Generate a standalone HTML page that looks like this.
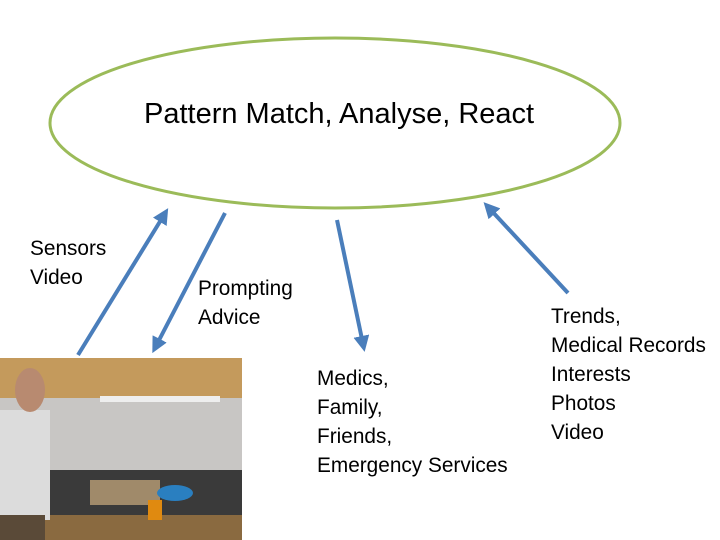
<!DOCTYPE html><html><head><style>
body{margin:0;width:720px;height:540px;background:#fff;position:relative;overflow:hidden;font-family:"Liberation Sans",sans-serif;}
.t{position:absolute;font-size:20.8px;line-height:29px;color:#000;white-space:nowrap}
</style></head><body>
<svg width="720" height="540" style="position:absolute;left:0;top:0">
<defs><marker id="a" markerWidth="4" markerHeight="4" refX="2" refY="2" orient="auto-start-reverse" markerUnits="strokeWidth"><path d="M0,0 L4,2 L0,4 z" fill="#4a7ebb"/></marker></defs>
<ellipse cx="335" cy="123" rx="285" ry="85" fill="none" stroke="#9bbb59" stroke-width="3"/>
<g stroke="#4a7ebb" stroke-width="4" fill="none">
<line x1="78" y1="355" x2="164" y2="215" marker-end="url(#a)"/>
<line x1="225" y1="213" x2="156" y2="346" marker-end="url(#a)"/>
<line x1="337" y1="220" x2="363" y2="344" marker-end="url(#a)"/>
<line x1="568" y1="293" x2="489" y2="208" marker-end="url(#a)"/>
</g>
<rect x="0" y="358" width="242" height="182" fill="#c8c6c4"/>
<rect x="0" y="358" width="242" height="40" fill="#c49a5c"/>
<rect x="100" y="396" width="120" height="6" fill="#eee"/>
<rect x="40" y="470" width="202" height="50" fill="#3a3a3a"/>
<rect x="90" y="480" width="70" height="25" fill="#a08a6a"/>
<rect x="40" y="515" width="202" height="25" fill="#8a6a40"/>
<ellipse cx="175" cy="493" rx="18" ry="8" fill="#2a7fc0"/>
<rect x="148" y="500" width="14" height="20" fill="#e08a10"/>
<rect x="0" y="410" width="50" height="110" fill="#dcdcdc"/>
<ellipse cx="30" cy="390" rx="15" ry="22" fill="#b88a70"/>
<rect x="0" y="515" width="45" height="25" fill="#5a4a38"/>
</svg>
<div class="t" style="left:144px;top:96px;font-size:29px;line-height:36px">Pattern Match, Analyse, React</div>
<div class="t" style="left:30px;top:234px">Sensors<br>Video</div>
<div class="t" style="left:198px;top:274px">Prompting<br>Advice</div>
<div class="t" style="left:317px;top:364px">Medics,<br>Family,<br>Friends,<br>Emergency Services</div>
<div class="t" style="left:551px;top:302px">Trends,<br>Medical Records<br>Interests<br>Photos<br>Video</div>
</body></html>
